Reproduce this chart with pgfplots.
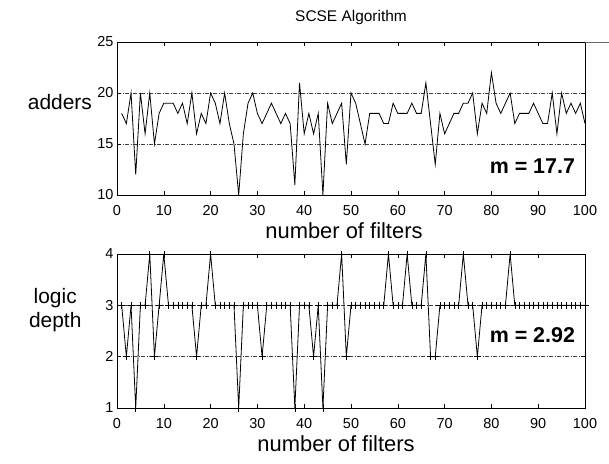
\documentclass[border=0pt]{standalone}
\usepackage{pgfplots}
\pgfplotsset{compat=1.18}
\usepackage{fontspec}
\setmainfont{Liberation Sans}
\begin{document}
\begin{tikzpicture}
\path[use as bounding box] (0,0) rectangle (609bp,464bp);
\pgfplotsset{myax/.style={
  scale only axis, width=468bp,
  xmin=0, xmax=100, xtick={0,10,...,100},
  tick align=inside, major tick length=4bp,
  axis line style={line width=0.9bp},
  every tick/.style={black, line width=0.6bp},
  ymajorgrids,
  grid style={black!75, line width=0.55bp, dash pattern=on 4bp off 1.5bp on 1bp off 1.5bp},
  /pgf/number format/assume math mode=true,
  tick label style={font=\fontsize{14.5}{16}\selectfont},
  xticklabel style={yshift=-7bp},
}}
% ---------- top axis ----------
\begin{axis}[myax, height=153bp, at={(117bp,269bp)}, anchor=south west,
  ymin=10, ymax=25, ytick={10,15,20,25},
  title={SCSE Algorithm},
  every axis title/.style={at={(axis description cs:0.5,1.157)}, anchor=center, font=\fontsize{15.5}{18}\selectfont},
  xlabel={number of filters},
  every axis x label/.style={at={(axis description cs:0.485,-0.235)}, anchor=center, font=\fontsize{22}{24}\selectfont},
  ylabel={adders},
  every axis y label/.style={at={(axis description cs:-0.122,0.61)}, anchor=center, font=\fontsize{21}{24}\selectfont},
]
\addplot[black, line width=0.8bp] coordinates {
(1,18)(2,17)(3,20)(4,12)(5,20)(6,16)(7,20)(8,15)(9,18)(10,19)
(11,19)(12,19)(13,18)(14,19)(15,17)(16,20)(17,16)(18,18)(19,17)(20,20)
(21,19)(22,17)(23,20)(24,17)(25,15)(26,10)(27,16)(28,19)(29,20)(30,18)
(31,17)(32,18)(33,19)(34,18)(35,17)(36,18)(37,17)(38,11)(39,21)(40,16)
(41,18)(42,16)(43,18)(44,10)(45,19)(46,17)(47,18)(48,19)(49,13)(50,20)
(51,19)(52,17)(53,15)(54,18)(55,18)(56,18)(57,17)(58,17)(59,19)(60,18)
(61,18)(62,18)(63,19)(64,18)(65,18)(66,21)(67,17)(68,13)(69,18)(70,16)
(71,17)(72,18)(73,18)(74,19)(75,19)(76,20)(77,16)(78,19)(79,18)(80,22)
(81,19)(82,18)(83,19)(84,20)(85,17)(86,18)(87,18)(88,18)(89,19)(90,18)
(91,17)(92,17)(93,20)(94,16)(95,20)(96,18)(97,19)(98,18)(99,19)(100,17)
};
\node[anchor=east, font=\bfseries\fontsize{21.5}{24}\selectfont] at (axis cs:98.6,12.8) {m = 17.7};
\end{axis}
% ---------- bottom axis ----------
\begin{axis}[myax, height=154bp, at={(117bp,56bp)}, anchor=south west,
  ymin=1, ymax=4, ytick={1,2,3,4}, clip=false,
  xlabel={number of filters},
  every axis x label/.style={at={(axis description cs:0.468,-0.234)}, anchor=center, font=\fontsize{22}{24}\selectfont},
  ylabel={logic\\depth},
  every axis y label/.style={at={(axis description cs:-0.132,0.636)}, anchor=center, align=center, font=\fontsize{21}{24}\selectfont},
]
\addplot[black, line width=0.8bp, mark=+, mark size=3.5bp, mark options={line width=0.55bp}] coordinates {
(1,3)(2,2)(3,3)(4,1)(5,3)(6,3)(7,4)(8,2)(9,3)(10,4)
(11,3)(12,3)(13,3)(14,3)(15,3)(16,3)(17,2)(18,3)(19,3)(20,4)
(21,3)(22,3)(23,3)(24,3)(25,3)(26,1)(27,3)(28,3)(29,3)(30,3)
(31,2)(32,3)(33,3)(34,3)(35,3)(36,3)(37,3)(38,1)(39,3)(40,3)
(41,3)(42,2)(43,3)(44,1)(45,3)(46,3)(47,3)(48,4)(49,2)(50,3)
(51,3)(52,3)(53,3)(54,3)(55,3)(56,3)(57,3)(58,4)(59,3)(60,3)
(61,3)(62,4)(63,3)(64,3)(65,3)(66,4)(67,2)(68,2)(69,3)(70,3)
(71,3)(72,3)(73,3)(74,4)(75,3)(76,3)(77,2)(78,3)(79,3)(80,3)
(81,3)(82,3)(83,3)(84,4)(85,3)(86,3)(87,3)(88,3)(89,3)(90,3)
(91,3)(92,3)(93,3)(94,3)(95,3)(96,3)(97,3)(98,3)(99,3)(100,3)
};
\node[anchor=east, font=\bfseries\fontsize{21.5}{24}\selectfont] at (axis cs:98.6,2.42) {m = 2.92};
\end{axis}
\draw[black!60, line width=0.6bp] (585bp,422bp) -- (609bp,422bp);
\end{tikzpicture}
\end{document}
